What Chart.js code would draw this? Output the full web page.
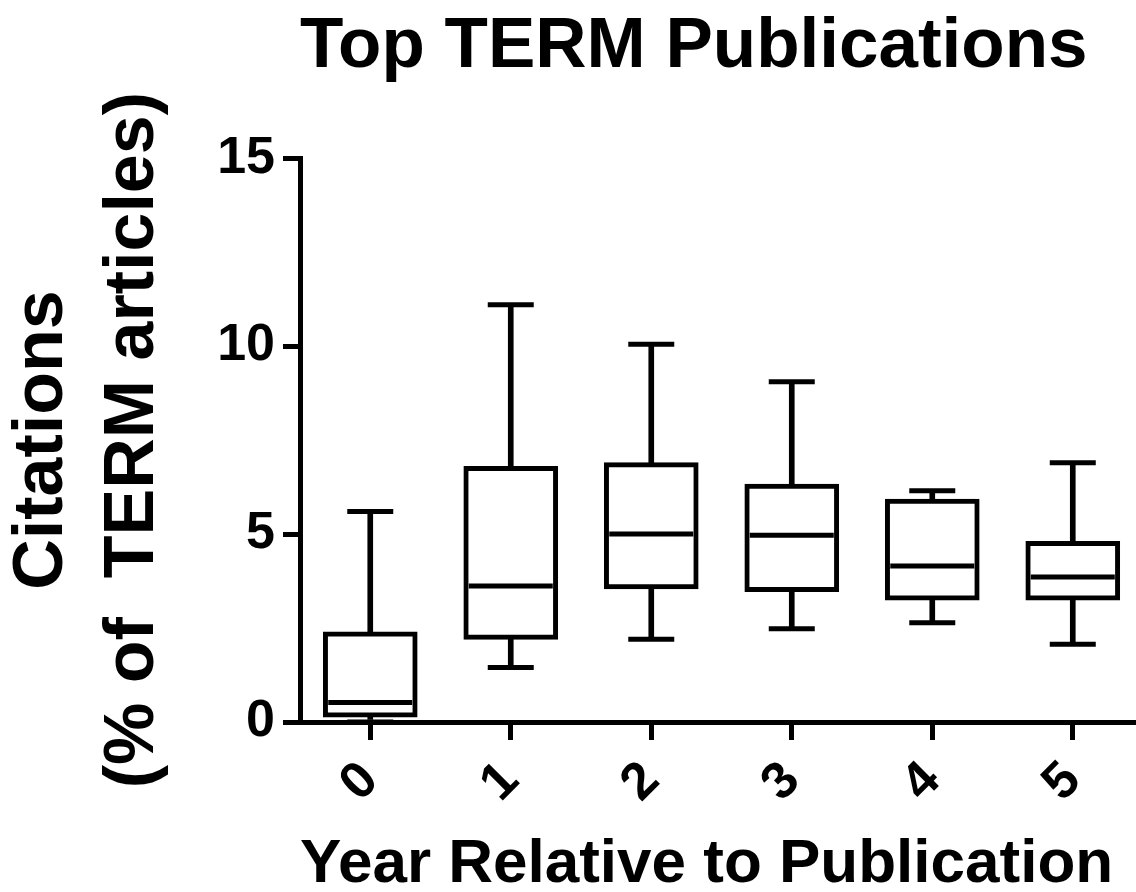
<!DOCTYPE html>
<html>
<head>
<meta charset="utf-8">
<script src="https://cdn.jsdelivr.net/npm/chart.js@4/dist/chart.umd.min.js"></script>
<style>
  html, body { margin: 0; padding: 0; background: #fff; }
  canvas { display: block; }
</style>
</head>
<body>
<canvas id="c" width="1136" height="892"></canvas>
<script>
// ---- data ----
const categories = ['0', '1', '2', '3', '4', '5'];
const mins    = [0.00, 1.45, 2.20, 2.48, 2.64, 2.07];
const q1s     = [0.13, 2.20, 3.54, 3.47, 3.24, 3.24];
const medians = [0.52, 3.62, 5.00, 4.97, 4.15, 3.86];
const q3s     = [2.40, 6.80, 6.90, 6.33, 5.93, 4.81];
const maxs    = [5.60, 11.10, 10.05, 9.05, 6.15, 6.90];
const yTicks  = [0, 5, 10, 15];

const titleText = 'Top TERM Publications';
const yTitle = ['Citations', '(% of  TERM articles)'];
const xTitle = 'Year Relative to Publication';

// ---- build datasets ----
const idx = categories.map((_, i) => i);
const FONT = "'Liberation Sans', Arial, sans-serif";
Chart.defaults.font.family = FONT;
Chart.defaults.color = '#000';

const boxData = idx.map(i => ({ x: i, y: [q1s[i], q3s[i]] }));
const upperWhisker = idx.map(i => ({ x: i, y: [q3s[i], maxs[i]] }));
const lowerWhisker = idx.map(i => ({ x: i, y: [mins[i], q1s[i]] }));
const medianPts = idx.map(i => ({ x: i, y: medians[i] }));
const capPts = idx.flatMap(i => [{ x: i, y: mins[i] }, { x: i, y: maxs[i] }]);

new Chart(document.getElementById('c'), {
  type: 'bar',
  data: {
    datasets: [
      {
        type: 'line', data: medianPts, showLine: false, order: 0,
        pointStyle: 'line', pointRadius: 42, pointHoverRadius: 42,
        pointBorderWidth: 5, pointHoverBorderWidth: 5,
        pointBorderColor: '#000', borderColor: '#000', clip: false
      },
      {
        type: 'line', data: capPts, showLine: false, order: 1,
        pointStyle: 'line', pointRadius: 23, pointHoverRadius: 23,
        pointBorderWidth: 5, pointHoverBorderWidth: 5,
        pointBorderColor: '#000', borderColor: '#000', clip: false
      },
      {
        data: boxData, order: 2, grouped: false,
        backgroundColor: '#fff', borderColor: '#000', borderWidth: 5,
        borderSkipped: false, barThickness: 94
      },
      {
        data: upperWhisker, order: 3, grouped: false,
        backgroundColor: '#000', borderWidth: 0, barThickness: 5
      },
      {
        data: lowerWhisker, order: 3, grouped: false,
        backgroundColor: '#000', borderWidth: 0, barThickness: 5
      }
    ]
  },
  options: {
    responsive: false,
    animation: false,
    events: [],
    layout: { padding: 0, autoPadding: false },
    plugins: {
      legend: { display: false },
      tooltip: { enabled: false },
      title: {
        display: true,
        text: titleText,
        align: 'start',
        fullSize: false,
        color: '#000',
        font: { size: 71, weight: 'bold', family: FONT, lineHeight: 1.2 },
        padding: { top: 5, bottom: 68 }
      }
    },
    scales: {
      x: {
        type: 'linear',
        min: -0.5,
        max: 5.45,
        offset: false,
        afterBuildTicks: (scale) => { scale.ticks = idx.map(v => ({ value: v })); },
        afterFit: (scale) => { scale.height = 170; scale.paddingLeft = 0; scale.paddingRight = 0; },
        ticks: {
          autoSkip: false,
          minRotation: 45,
          maxRotation: 45,
          padding: 10,
          color: '#000',
          font: { size: 52, weight: 'bold', family: FONT },
          callback: (v) => categories[v]
        },
        grid: {
          display: true, drawOnChartArea: false, drawTicks: true, offset: false,
          tickLength: 18, tickWidth: 5, lineWidth: 5, tickColor: '#000', color: '#000'
        },
        border: { display: true, width: 5, color: '#000' },
        title: {
          display: true, text: xTitle, align: 'start', color: '#000',
          font: { size: 62, weight: 'bold', family: FONT, lineHeight: 1.0 },
          padding: { top: 0, bottom: -4 }
        }
      },
      y: {
        type: 'linear',
        min: 0,
        max: 15,
        afterBuildTicks: (scale) => { scale.ticks = yTicks.map(v => ({ value: v })); },
        afterFit: (scale) => { scale.width = 300; },
        ticks: {
          padding: 8,
          color: '#000',
          font: { size: 52, weight: 'bold', family: FONT }
        },
        grid: {
          display: true, drawOnChartArea: false, drawTicks: true,
          tickLength: 17, tickWidth: 5, lineWidth: 5, tickColor: '#000', color: '#000'
        },
        border: { display: true, width: 5, color: '#000' },
        title: {
          display: true, text: yTitle, color: '#000',
          font: { size: 70, weight: 'bold', family: FONT, lineHeight: 1.3 },
          padding: { top: -3, bottom: 0 }
        }
      }
    }
  }
});
</script>
</body>
</html>
